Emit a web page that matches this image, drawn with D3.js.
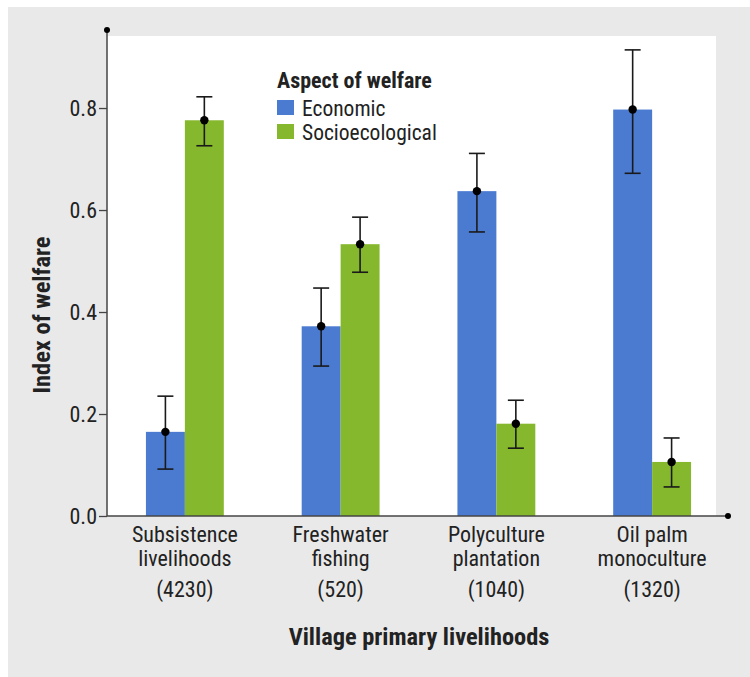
<!DOCTYPE html>
<html><head><meta charset="utf-8">
<script src="https://cdn.jsdelivr.net/npm/d3@7"></script>
<style>
html,body{margin:0;padding:0;background:#fff;}
svg{display:block;}
text{font-family:"Liberation Sans Narrow","Roboto Condensed","Arial Narrow",Roboto,sans-serif;fill:#222;}
</style></head>
<body>
<svg id="chart" width="750" height="677"></svg>
<script>
const categories = ["Subsistence livelihoods", "Freshwater fishing", "Polyculture plantation", "Oil palm monoculture"];
const labelLines = [["Subsistence","livelihoods","(4230)"],["Freshwater","fishing","(520)"],["Polyculture","plantation","(1040)"],["Oil palm","monoculture","(1320)"]];
const seriesNames = ["Economic", "Socioecological"];
const economic = [0.165, 0.372, 0.637, 0.797];
const economicLow = [0.092, 0.294, 0.557, 0.672];
const economicHigh = [0.235, 0.447, 0.711, 0.914];
const socio = [0.776, 0.533, 0.181, 0.106];
const socioLow = [0.726, 0.478, 0.133, 0.057];
const socioHigh = [0.822, 0.586, 0.227, 0.153];
const yTicks = [0, 0.2, 0.4, 0.6, 0.8];
const colors = ["#4a7bd1", "#86b82e"];

const svg = d3.select("#chart");
const x0 = 107, x1 = 730, yTop = 30, yBot = 516;
svg.append("rect").attr("x",8).attr("y",7).attr("width",742).attr("height",670).attr("fill","#e9e9e9");
svg.append("rect").attr("x",107).attr("y",36).attr("width",609).attr("height",480).attr("fill","#fff");

const y = d3.scaleLinear().domain([0, 0.953]).range([yBot, yTop]);
const xb = d3.scaleBand().domain(categories).range([x0, x1]).paddingInner(0.5).paddingOuter(0.25);
const xs = d3.scaleBand().domain(seriesNames).range([0, xb.bandwidth()]);

const data = categories.map((c,i)=>({c, vals:[
  {s:"Economic", v:economic[i], lo:economicLow[i], hi:economicHigh[i]},
  {s:"Socioecological", v:socio[i], lo:socioLow[i], hi:socioHigh[i]}]}));

const g = svg.append("g");
const grp = g.selectAll("g.grp").data(data).join("g").attr("class","grp")
  .attr("transform", d=>`translate(${xb(d.c)},0)`);
grp.selectAll("rect").data(d=>d.vals).join("rect")
  .attr("x", d=>xs(d.s)).attr("width", xs.bandwidth())
  .attr("y", d=>y(d.v)).attr("height", d=>y(0)-y(d.v))
  .attr("fill", (d,i)=>colors[i]);
const eb = grp.selectAll("g.eb").data(d=>d.vals).join("g").attr("class","eb")
  .attr("transform", d=>`translate(${xs(d.s)+xs.bandwidth()/2},0)`);
eb.append("line").attr("y1",d=>y(d.lo)).attr("y2",d=>y(d.hi)).attr("stroke","#1a1a1a").attr("stroke-width",1.6);
eb.append("line").attr("x1",-8).attr("x2",8).attr("y1",d=>y(d.hi)).attr("y2",d=>y(d.hi)).attr("stroke","#1a1a1a").attr("stroke-width",1.6);
eb.append("line").attr("x1",-8).attr("x2",8).attr("y1",d=>y(d.lo)).attr("y2",d=>y(d.lo)).attr("stroke","#1a1a1a").attr("stroke-width",1.6);
eb.append("circle").attr("r",4.2).attr("cy",d=>y(d.v)).attr("fill","#000");

// Y axis
const yAxis = d3.axisLeft(y).tickValues(yTicks).tickFormat(d3.format(".1f")).tickSize(8).tickPadding(2);
const ya = svg.append("g").attr("transform",`translate(${x0},0)`).call(yAxis);
ya.select(".domain").remove();
ya.selectAll(".tick line").attr("stroke","#444").attr("stroke-width",1.3);
ya.selectAll(".tick text").attr("font-size",22).attr("fill","#222")
  .style("font-family",'"Liberation Sans Narrow","Roboto Condensed",Roboto,sans-serif');
svg.append("line").attr("x1",x0).attr("x2",x0).attr("y1",y(0)).attr("y2",yTop).attr("stroke","#444").attr("stroke-width",1.5);
svg.append("circle").attr("cx",x0).attr("cy",yTop).attr("r",3).attr("fill","#000");

// X axis
svg.append("line").attr("x1",x0).attr("x2",728).attr("y1",yBot).attr("y2",yBot).attr("stroke","#444").attr("stroke-width",1.5);
svg.append("circle").attr("cx",728).attr("cy",yBot).attr("r",3).attr("fill","#000");

const xl = svg.append("g");
categories.forEach((c,i)=>{
  const cx = xb(c)+xb.bandwidth()/2;
  const t = xl.append("text").attr("text-anchor","middle").attr("font-size",22);
  const lines = labelLines[i];
  const ys = [542, 566, 597];
  lines.forEach((ln,j)=>{
    t.append("tspan").attr("x",cx).attr("y",ys[j]).text(ln);
  });
});

svg.append("text").attr("x",419).attr("y",645).attr("text-anchor","middle")
  .attr("font-size",24.4).attr("font-weight","bold").text("Village primary livelihoods");
svg.append("text").attr("transform","translate(50,315) rotate(-90)").attr("text-anchor","middle")
  .attr("font-size",24.4).attr("font-weight","bold").text("Index of welfare");

// Legend
const lg = svg.append("g").attr("transform","translate(277,0)");
lg.append("text").attr("x",0).attr("y",88).attr("font-size",22).attr("font-weight","bold").text("Aspect of welfare");
seriesNames.forEach((s,i)=>{
  lg.append("rect").attr("x",0).attr("y",100+i*24).attr("width",17).attr("height",15).attr("fill",colors[i]);
  lg.append("text").attr("x",25).attr("y",116+i*24).attr("font-size",21.5).text(s);
});
</script>
</body></html>
